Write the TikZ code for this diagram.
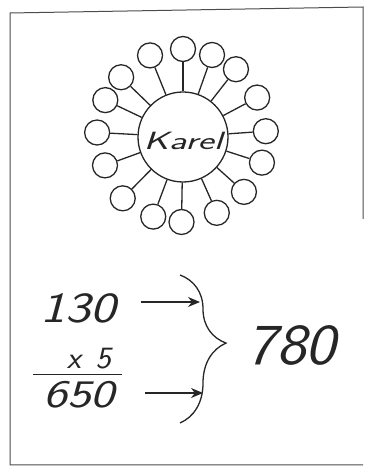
\documentclass[tikz,border=0pt]{standalone}
\usepackage{graphicx}
\usetikzlibrary{arrows.meta,decorations.pathreplacing}

\tikzset{
  petal/.style={draw,circle,minimum size=25pt,inner sep=0pt},
  hand/.style={inner sep=0pt,text=black!85},
  pointer/.style={line width=1.1pt,-{Stealth[length=12pt,width=10pt]}}
}
\newcommand{\handsize}[1]{\sffamily\slshape\fontsize{#1}{#1}\selectfont}
\newcommand{\wide}[2]{\scalebox{#1}[1]{#2}}

\begin{document}
\begin{tikzpicture}[x=1pt,y=1pt,line width=1.3pt,draw=black!85]
\useasboundingbox (0,0) rectangle (367,469);
% frame
\draw[line width=1pt,black!70] (363,250) -- (363,462) -- (10,456) -- (10,4) -- (363,4);
% the name and its ring
\node[draw,circle,minimum size=90pt,inner sep=0pt] (karel) at (183,332) {};
\node[hand,font=\sffamily\itshape\fontsize{25}{25}\selectfont] (name) at (183,328) {\wide{1.55}{Karel}};
\foreach \a/\r [count=\i] in {90/88,70.5/87,52/86,28/84,4/83,-18/83,-42/82,-66/83,-91/85,-110.5/85,-134.5/86,-160/83,177/86,154.6/86,136/86,112/88}{
  \node[petal] (p\i) at ([shift={(\a:\r)}]karel.center) {};
  \draw (karel) -- (p\i);
}
% the sum
\node[hand,font=\handsize{43}] (first) at (78,161) {\wide{1.25}{130}};
\node[hand,font=\handsize{31}] (times) at (89,110) {\wide{1.05}{x\hspace{14pt}5}};
\node[hand,font=\handsize{39}] (product) at (79,74) {\wide{1.3}{650}};
\draw[line width=1pt] (33,94) -- (122,94);
\coordinate (brtop) at (180,194);
\coordinate (brbot) at (180,46);
\draw[decorate,decoration={brace,amplitude=46pt,aspect=0.46}] (brtop) -- (brbot);
\coordinate (endA) at (200,167);
\coordinate (endB) at (203,76);
\draw[pointer] ([shift={(24pt,6pt)}]first.east) -- (endA);
\draw[pointer] ([shift={(30pt,2pt)}]product.east) -- (endB);
\node[hand,font=\handsize{58}] (total) at (291,124) {\wide{1.1}{780}};
\end{tikzpicture}
\end{document}
